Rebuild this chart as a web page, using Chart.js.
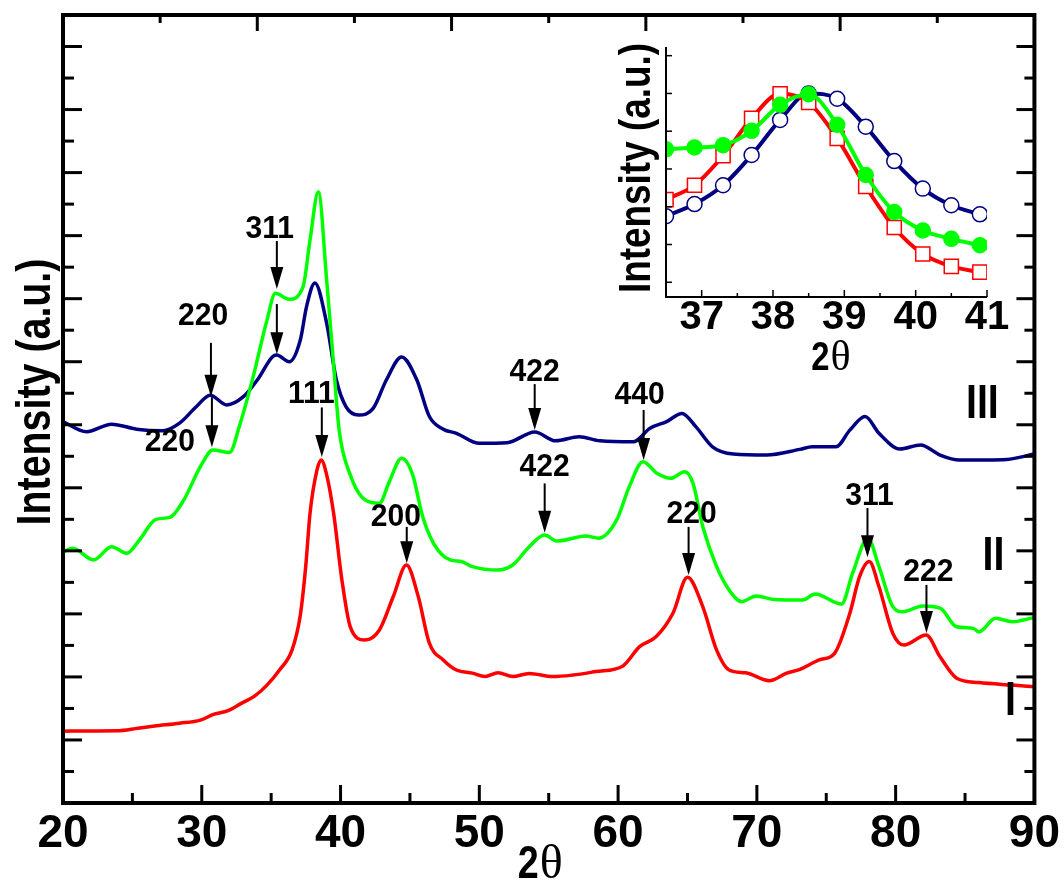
<!DOCTYPE html>
<html lang="en">
<head>
<meta charset="UTF-8">
<title>XRD patterns I, II, III</title>
<script src="https://cdn.jsdelivr.net/npm/chart.js"></script>
<style>
  body { margin: 0; background: #fff; }
  #wrap { position: relative; width: 1064px; height: 880px; }
  #mainChart { position: absolute; left: 0; top: 0; }
  #insetChart { position: absolute; left: 590px; top: 30px; }
</style>
</head>
<body>
<div id="wrap">
  <canvas id="mainChart" width="1064" height="880"></canvas>
  <canvas id="insetChart" width="430" height="350"></canvas>
</div>
<script>
// pattern I (red)
const angleI = [20.0, 23.9, 25.4, 26.6, 28.4, 29.9, 30.9, 31.85, 32.85, 33.8, 34.7, 35.6, 36.5, 37.1, 37.5,
  37.8, 38.3, 38.6, 39.0, 39.5, 40.1, 40.7, 41.75, 42.8, 43.8, 44.75, 45.6, 46.4, 47.4, 48.35,
  49.5, 50.4, 51.35, 52.4, 53.6, 55.3, 56.75, 58.4, 60.35, 61.55, 62.75, 63.95, 65.0, 66.1, 67.1,
  68.0, 69.2, 70.9, 72.1, 73.1, 74.5, 75.6, 76.7, 77.4, 78.1, 78.8, 79.8, 80.6, 82.2, 83.2,
  84.4, 86.0, 88.4, 90.0];
const intensityI = [2.28, 2.29, 2.37, 2.44, 2.53, 2.63, 2.82, 2.92, 3.16, 3.39, 3.74, 4.22, 4.85, 5.96, 7.55,
  9.19, 10.56, 10.88, 10.41, 9.19, 7.07, 5.59, 5.17, 5.49, 6.55, 7.55, 6.55, 5.07, 4.54, 4.22,
  4.12, 4.01, 4.13, 4.01, 4.11, 4.01, 4.06, 4.17, 4.35, 4.96, 5.28, 6.02, 7.16, 6.23, 4.85,
  4.22, 4.13, 3.88, 4.11, 4.24, 4.54, 4.75, 6.02, 7.18, 7.66, 6.86, 5.38, 5.01, 5.33, 4.64,
  3.96, 3.82, 3.74, 3.69];

// pattern II (green)
const angleII = [20.0, 20.7, 22.2, 23.5, 24.6, 25.5, 26.7, 27.7, 28.7, 29.9, 30.8, 32.0, 32.7, 33.7, 34.7,
  35.3, 36.3, 37.3, 37.8, 38.4, 39.0, 39.5, 39.9, 40.7, 41.6, 42.8, 43.5, 44.4, 45.2, 45.9,
  46.7, 47.9, 48.7, 49.5, 51.3, 52.4, 53.6, 54.7, 55.6, 57.7, 58.6, 59.9, 60.8, 61.8, 62.8,
  63.8, 64.8, 65.4, 66.1, 67.1, 68.0, 68.9, 69.95, 71.2, 73.3, 74.2, 76.1, 76.9, 78.0, 78.8,
  79.8, 80.5, 81.95, 83.2, 84.4, 85.6, 86.0, 87.2, 88.4, 90.0];
const intensityII = [7.97, 8.08, 7.71, 8.13, 7.92, 8.34, 9.00, 9.06, 9.61, 10.67, 11.20, 11.12, 11.94, 13.52, 15.32,
  16.17, 15.98, 16.38, 17.86, 19.39, 16.59, 13.90, 11.83, 10.41, 9.68, 9.51, 10.18, 10.94, 10.41, 9.11,
  8.24, 7.71, 7.66, 7.50, 7.39, 7.55, 8.13, 8.50, 8.31, 8.47, 8.40, 8.98, 10.03, 10.83, 10.46,
  10.30, 10.51, 10.14, 8.77, 7.50, 6.76, 6.39, 6.57, 6.46, 6.44, 6.63, 6.31, 7.29, 8.40, 7.50,
  6.23, 6.07, 6.25, 6.18, 5.59, 5.54, 5.43, 5.86, 5.75, 5.89];

// pattern III (navy)
const angleIII = [20.0, 21.7, 23.5, 25.3, 27.2, 28.4, 29.6, 30.6, 31.8, 33.0, 34.0, 35.1, 35.4, 36.3, 37.1,
  37.55, 38.15, 39.0, 39.7, 40.4, 41.3, 42.35, 43.3, 44.4, 45.5, 46.4, 47.4, 48.35, 50.0, 52.0,
  54.0, 55.5, 57.2, 58.7, 61.1, 62.3, 63.5, 64.6, 65.6, 66.8, 68.3, 70.7, 73.1, 74.0, 75.7,
  76.7, 77.8, 78.8, 80.3, 81.8, 83.2, 84.6, 88.0, 90.0];
const intensityIII = [12.10, 11.78, 12.02, 11.86, 11.81, 12.05, 12.57, 12.94, 12.63, 12.89, 13.42, 14.16, 14.21, 14.00, 14.69,
  15.75, 16.50, 15.22, 13.42, 12.57, 12.31, 12.52, 13.42, 14.15, 13.42, 12.26, 11.86, 11.73, 11.41, 11.43,
  11.77, 11.49, 11.62, 11.49, 11.46, 11.89, 12.10, 12.36, 11.94, 11.30, 11.07, 11.04, 11.22, 11.30, 11.30,
  11.83, 12.26, 11.73, 11.23, 11.36, 11.04, 10.88, 10.90, 11.07];

// inset: (111) peak region
const insetAngle = [36.5, 36.9, 37.3, 37.7, 38.1, 38.5, 38.9, 39.3, 39.7, 40.1, 40.5, 40.9];
const insetI = [3.19, 3.57, 4.35, 5.34, 5.99, 5.76, 4.81, 3.54, 2.45, 1.75, 1.42, 1.27];
const insetII = [4.52, 4.57, 4.63, 5.01, 5.70, 5.98, 5.17, 3.84, 2.86, 2.37, 2.15, 1.98];
const insetIII = [2.75, 3.07, 3.57, 4.37, 5.30, 6.00, 5.86, 5.12, 4.21, 3.48, 3.04, 2.80];

// tick values
const xLabelTicks = [20, 30, 40, 50, 60, 70, 80, 90];
const xTickMarks = [25, 30, 35, 40, 45, 50, 55, 60, 65, 70, 75, 80, 85];
const topTickMarks = [1, 2, 3, 4, 5, 6, 7, 8, 9];
const sideTickMarks = [1, 2, 3, 4, 5, 6, 7, 8, 9, 10, 11, 12, 13, 14, 15, 16, 17, 18, 19, 20, 21, 22, 23, 24];
const insetLabelTicks = [37, 38, 39, 40, 41];
const insetMinorTicks = [37.5, 38.5, 39.5, 40.5];
const insetSideTicks = [1, 2, 3, 4, 5, 6, 7];

// peak labels: text, text position, arrow x and arrow span (data units)
const peakMarks = [
  { text: '220', tx: 30.1, ty: 15.44, at: 30.66, from: 14.60, to: 12.89 },
  { text: '220', tx: 27.7, ty: 11.44, at: 30.73, from: 12.87, to: 11.29 },
  { text: '311', tx: 34.9, ty: 18.21, at: 35.41, from: 17.83, to: 16.31 },
  { text: '',    tx: 35.4, ty: 16.0,  at: 35.41, from: 15.83, to: 14.24 },
  { text: '111', tx: 37.9, ty: 12.97, at: 38.65, from: 12.55, to: 10.98 },
  { text: '200', tx: 43.98, ty: 9.07, at: 44.77, from: 8.76, to: 7.61 },
  { text: '422', tx: 53.99, ty: 13.67, at: 53.99, from: 13.29, to: 11.83 },
  { text: '422', tx: 54.71, ty: 10.66, at: 54.71, from: 10.14, to: 8.57 },
  { text: '440', tx: 61.55, ty: 12.94, at: 61.84, from: 12.47, to: 10.88 },
  { text: '220', tx: 65.3, ty: 9.14, at: 65.08, from: 8.76, to: 7.23 },
  { text: '311', tx: 78.12, ty: 9.71, at: 77.97, from: 9.36, to: 7.80 },
  { text: '222', tx: 82.36, ty: 7.30, at: 82.22, from: 6.92, to: 5.39 }
];
const seriesTags = [
  { text: 'III', x: 86.25, y: 12.63 },
  { text: 'II', x: 87.05, y: 7.80 },
  { text: 'I', x: 88.27, y: 3.20 }
];

const RED = '#ff0000', GREEN = '#00ff00', NAVY = '#000080';
const SANS = "'Liberation Sans', Arial, sans-serif";
const NARROW = "'Liberation Sans Narrow', 'Arial Narrow', 'Liberation Sans', sans-serif";
const SERIF = "'Liberation Serif', 'Times New Roman', serif";

function pts(xs, ys) {
  return xs.map((x, i) => ({ x: x, y: ys[i] }));
}

function seg(ctx, x1, y1, x2, y2) {
  ctx.beginPath();
  ctx.moveTo(x1, y1);
  ctx.lineTo(x2, y2);
  ctx.stroke();
}

// bold text, optionally squeezed horizontally and rotated
function write(ctx, s, x, y, size, sx, rot) {
  ctx.save();
  ctx.translate(x, y);
  if (rot) ctx.rotate(rot);
  ctx.scale(sx || 1, 1);
  ctx.font = 'bold ' + size + 'px ' + SANS;
  ctx.fillStyle = '#000';
  ctx.textAlign = 'center';
  ctx.textBaseline = 'middle';
  ctx.fillText(s, 0, 0);
  ctx.restore();
}

function twoTheta(ctx, x, base, size) {
  ctx.save();
  ctx.fillStyle = '#000';
  ctx.textBaseline = 'alphabetic';
  ctx.textAlign = 'right';
  ctx.save();
  ctx.translate(x, base);
  ctx.scale(0.82, 1);
  ctx.font = 'bold ' + size + 'px ' + SANS;
  ctx.fillText('2', 0, 0);
  ctx.restore();
  ctx.textAlign = 'left';
  ctx.font = (size + 2) + 'px ' + SERIF;
  ctx.fillText('\u03B8', x + 1, base);
  ctx.restore();
}

function arrowDown(ctx, x, y0, y1) {
  ctx.save();
  ctx.strokeStyle = '#000';
  ctx.fillStyle = '#000';
  ctx.lineWidth = 2;
  seg(ctx, x, y0, x, y1 - 18);
  ctx.beginPath();
  ctx.moveTo(x - 6.5, y1 - 22);
  ctx.lineTo(x + 6.5, y1 - 22);
  ctx.lineTo(x, y1);
  ctx.closePath();
  ctx.fill();
  ctx.restore();
}

const mainFrame = {
  id: 'mainFrame',
  afterDraw(chart) {
    const { ctx, chartArea: a, scales } = chart;
    ctx.save();
    ctx.strokeStyle = '#000';
    ctx.lineWidth = 3;
    xTickMarks.forEach(v => {
      const px = scales.x.getPixelForValue(v);
      seg(ctx, px, a.bottom, px, a.bottom - (v % 10 === 0 ? 18 : 10));
    });
    topTickMarks.forEach(v => {
      const px = scales.xTop.getPixelForValue(v);
      seg(ctx, px, a.top, px, a.top + (v % 2 === 0 ? 16 : 8));
    });
    sideTickMarks.forEach(v => {
      const py = scales.y.getPixelForValue(v);
      const big = v % 2 === 0;
      seg(ctx, a.left, py, a.left + (big ? 19 : 11), py);
      seg(ctx, a.right, py, a.right - (big ? 18 : 10), py);
    });
    ctx.lineWidth = 4;
    ctx.strokeRect(a.left, a.top, a.right - a.left, a.bottom - a.top);
    ctx.restore();

    peakMarks.forEach(m => {
      const ax = scales.x.getPixelForValue(m.at);
      arrowDown(ctx, ax, scales.y.getPixelForValue(m.from), scales.y.getPixelForValue(m.to));
      if (m.text) {
        write(ctx, m.text, scales.x.getPixelForValue(m.tx), scales.y.getPixelForValue(m.ty), 31, 0.97);
      }
    });
    seriesTags.forEach(t => {
      write(ctx, t.text, scales.x.getPixelForValue(t.x), scales.y.getPixelForValue(t.y), 48, 0.82);
    });

    write(ctx, 'Intensity (a.u.)', 37, (a.top + a.bottom) / 2 - 17, 48, 0.82, -Math.PI / 2);
    twoTheta(ctx, (a.left + a.right) / 2 - 10, 878, 46);
  }
};

const insetFrame = {
  id: 'insetFrame',
  afterDraw(chart) {
    const { ctx, chartArea: a, scales } = chart;
    ctx.save();
    ctx.strokeStyle = '#000';
    ctx.lineWidth = 1.5;
    insetLabelTicks.forEach(v => {
      const px = scales.x.getPixelForValue(v);
      seg(ctx, px, a.bottom, px, a.bottom - 7);
    });
    insetMinorTicks.forEach(v => {
      const px = scales.x.getPixelForValue(v);
      seg(ctx, px, a.bottom, px, a.bottom - 4);
    });
    insetSideTicks.forEach(v => {
      const py = scales.y.getPixelForValue(v);
      seg(ctx, a.left, py, a.left + 6, py);
    });
    ctx.lineWidth = 2;
    seg(ctx, a.left, a.top, a.left, a.bottom + 1);
    seg(ctx, a.left - 1, a.bottom, a.right, a.bottom);
    ctx.restore();

    write(ctx, 'Intensity (a.u.)', 48, (a.top + a.bottom) / 2 - 4, 45, 0.82, -Math.PI / 2);
    twoTheta(ctx, (a.left + a.right) / 2 + 3, 340, 40);
  }
};

function lineSet(label, xs, ys, color) {
  return {
    label: label,
    data: pts(xs, ys),
    borderColor: color,
    borderWidth: 3.5,
    pointRadius: 0,
    fill: false,
    tension: 0.4,
    cubicInterpolationMode: 'monotone'
  };
}

function hiddenAxis(position, min, max, fit) {
  return {
    type: 'linear', position: position, min: min, max: max,
    ticks: { display: false },
    grid: { display: false, drawTicks: false },
    border: { display: false },
    afterFit: fit
  };
}

new Chart(document.getElementById('mainChart'), {
  type: 'line',
  data: {
    datasets: [
      lineSet('I', angleI, intensityI, RED),
      lineSet('II', angleII, intensityII, GREEN),
      lineSet('III', angleIII, intensityIII, NAVY)
    ]
  },
  options: {
    responsive: false,
    animation: false,
    events: [],
    layout: { padding: 0 },
    plugins: { legend: { display: false }, tooltip: { enabled: false } },
    scales: {
      x: {
        type: 'linear', position: 'bottom', min: 20, max: 90,
        afterBuildTicks: s => { s.ticks = xLabelTicks.map(v => ({ value: v })); },
        ticks: { color: '#000', padding: 4, maxRotation: 0, font: { family: NARROW, size: 46, weight: 'bold' } },
        grid: { display: false, drawTicks: false },
        border: { display: false },
        afterFit: s => { s.height = 77; }
      },
      xTop: hiddenAxis('top', 0, 10, s => { s.height = 15; }),
      y: hiddenAxis('left', 0, 25, s => { s.width = 63; }),
      yRight: hiddenAxis('right', 0, 25, s => { s.width = 29; })
    }
  },
  plugins: [mainFrame]
});

function markerSet(label, ys, color, style, radius, fillColor) {
  return {
    label: label,
    data: pts(insetAngle, ys),
    borderColor: color,
    borderWidth: 4,
    pointStyle: style,
    pointRadius: radius,
    pointBorderWidth: 1.5,
    pointBorderColor: color,
    pointBackgroundColor: fillColor,
    fill: false,
    tension: 0.4,
    cubicInterpolationMode: 'monotone'
  };
}

new Chart(document.getElementById('insetChart'), {
  type: 'line',
  data: {
    datasets: [
      markerSet('II', insetII, GREEN, 'circle', 7.5, GREEN),
      markerSet('I', insetI, RED, 'rect', 10, '#fff'),
      markerSet('III', insetIII, NAVY, 'circle', 7.5, '#fff')
    ]
  },
  options: {
    responsive: false,
    animation: false,
    events: [],
    layout: { padding: { top: 17, right: 33, left: 0, bottom: 0 } },
    plugins: { legend: { display: false }, tooltip: { enabled: false } },
    scales: {
      x: {
        type: 'linear', min: 36.5, max: 41,
        afterBuildTicks: s => { s.ticks = insetLabelTicks.map(v => ({ value: v })); },
        ticks: { color: '#000', padding: -3, maxRotation: 0, font: { family: SANS, size: 40, weight: 'bold' } },
        grid: { display: false, drawTicks: false },
        border: { display: false },
        afterFit: s => { s.height = 83; }
      },
      y: hiddenAxis('left', 0.61, 7.23, s => { s.width = 76; })
    }
  },
  plugins: [insetFrame]
});
</script>
</body>
</html>
